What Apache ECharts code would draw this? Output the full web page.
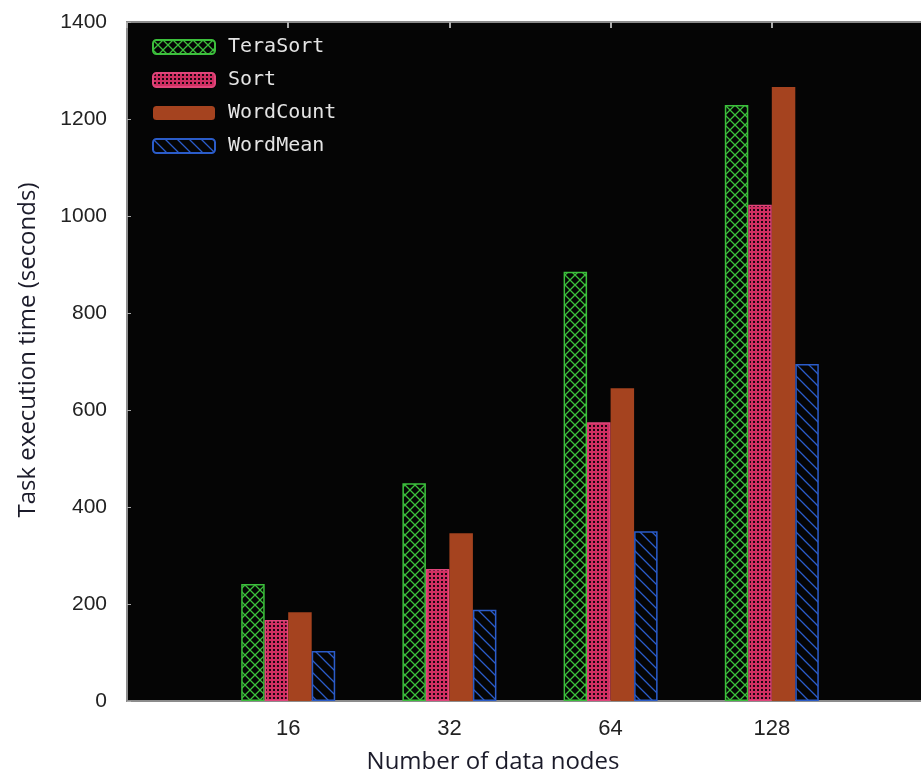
<!DOCTYPE html>
<html>
<head>
<meta charset="utf-8">
<script src="https://cdn.jsdelivr.net/npm/echarts@6/dist/echarts.min.js"></script>
<style>
  html, body { margin: 0; padding: 0; background: #fff; }
  #chart { width: 921px; height: 778px; }
</style>
</head>
<body>
<div id="chart"></div>
<script>
// values
const nodeCounts = ['16', '32', '64', '128'];
const teraSort = [241, 449, 885, 1229];
const sortTimes = [167, 272, 575, 1023];
const wordCount = [183, 346, 645, 1266];
const wordMean = [103, 188, 350, 695];
const yMin = 0, yMax = 1400, yStep = 200;

// empty slot on each side so the groups sit on the ticks like the original
const slots = [''].concat(nodeCounts, ['']);
const pad = arr => ['-'].concat(arr, ['-']);

function pattern(size, draw) {
  const c = document.createElement('canvas');
  c.width = c.height = size;
  const g = c.getContext('2d');
  g.fillStyle = '#050505';
  g.fillRect(0, 0, size, size);
  draw(g, size);
  return { image: c, repeat: 'repeat' };
}

const greenCross = pattern(10, (g, s) => {
  g.strokeStyle = '#3cbf3c';
  g.lineWidth = 1.3;
  g.beginPath();
  g.moveTo(0, 0); g.lineTo(s, s);
  g.moveTo(s, 0); g.lineTo(0, s);
  g.stroke();
});
const pinkMesh = pattern(4, (g, s) => {
  g.fillStyle = '#cf2f62';
  g.fillRect(0, 0, s, s);
  g.fillStyle = '#1a0510';
  g.fillRect(1, 1, 2, 2);
});
const blueHatch = pattern(12, (g, s) => {
  g.strokeStyle = '#2b5cc9';
  g.lineWidth = 1.3;
  g.beginPath();
  g.moveTo(0, 0); g.lineTo(s, s);
  g.moveTo(-s, 0); g.lineTo(s, 2 * s);
  g.moveTo(0, -s); g.lineTo(2 * s, s);
  g.stroke();
});

const chart = echarts.init(document.getElementById('chart'));

function barSeries(name, data, fill, border) {
  return {
    name: name,
    type: 'bar',
    data: pad(data),
    barWidth: 23.5,
    barGap: '0%',
    itemStyle: { color: fill, borderColor: border, borderWidth: border ? 1.5 : 0 }
  };
}

chart.setOption({
  animation: false,
  grid: {
    left: 127, top: 22, width: 806, height: 679,
    outerBoundsMode: 'none',
    show: true, backgroundColor: '#050505', borderColor: '#8c8c8c', borderWidth: 2
  },
  legend: {
    orient: 'vertical',
    left: 147, top: 32,
    itemWidth: 62, itemHeight: 14, itemGap: 13,
    textStyle: { color: '#e4e4e4', fontFamily: 'DejaVu Sans Mono', fontSize: 20, padding: [0, 0, 0, 8] },
    data: ['TeraSort', 'Sort', 'WordCount', 'WordMean']
  },
  graphic: [{
    type: 'text', x: 493, y: 762,
    style: { text: 'Number of data nodes', align: 'center', verticalAlign: 'middle',
      fill: '#1b1b2a', font: '24px "Open Sans"' }
  }, {
    type: 'text', x: 28, y: 350, rotation: Math.PI / 2,
    style: { text: 'Task execution time (seconds)', align: 'center', verticalAlign: 'middle',
      fill: '#1b1b2a', font: '24px "Open Sans"' }
  }],
  xAxis: [{
    type: 'category',
    data: slots,
    boundaryGap: false,
    axisLine: { lineStyle: { color: '#8c8c8c', width: 2 } },
    axisTick: { show: false },
    axisLabel: { color: '#222', fontFamily: 'Liberation Sans', fontSize: 22, margin: 17 }
  }, {
    type: 'category',
    data: slots,
    boundaryGap: false,
    position: 'top',
    axisLine: { show: false },
    axisTick: { inside: true, length: 6, lineStyle: { color: '#aaa', width: 2 } },
    axisLabel: { show: false }
  }],
  yAxis: {
    type: 'value',
    min: yMin, max: yMax, interval: yStep,
    axisLine: { show: true, lineStyle: { color: '#8c8c8c', width: 2 } },
    axisTick: { show: true, inside: true, length: 4, lineStyle: { color: '#aaa' } },
    splitLine: { show: false },
    axisLabel: { color: '#222', fontFamily: 'Liberation Sans', fontSize: 21, margin: 20,
      formatter: v => String(v) }
  },
  series: [
    barSeries('TeraSort', teraSort, greenCross, '#3cbf3c'),
    barSeries('Sort', sortTimes, pinkMesh, '#e0457a'),
    barSeries('WordCount', wordCount, '#a5431f', null),
    barSeries('WordMean', wordMean, blueHatch, '#2b5cc9')
  ]
});
</script>
</body>
</html>
